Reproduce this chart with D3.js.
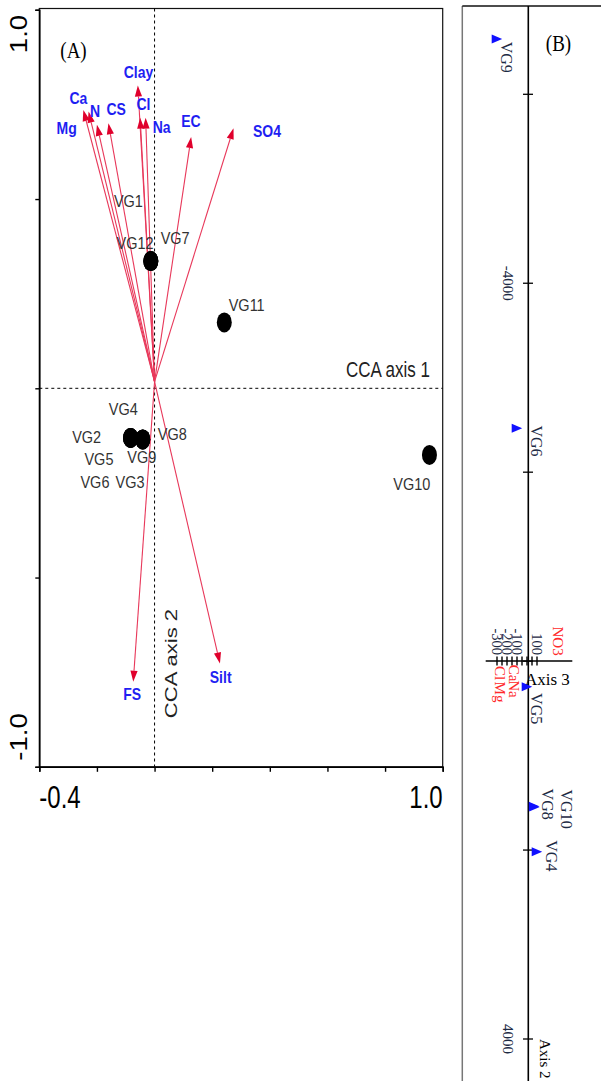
<!DOCTYPE html>
<html><head><meta charset="utf-8">
<script src="https://cdn.jsdelivr.net/npm/d3@7"></script>
<style>html,body{margin:0;padding:0;background:#fff;}svg{display:block;}</style>
</head><body>
<script>
// ---------- Panel A data (CCA biplot) ----------
const siteNames  = ["VG1","VG2","VG3","VG4","VG5","VG6","VG7","VG8","VG9","VG10","VG11","VG12"];
const siteAxis1  = [-0.013,-0.083,-0.041,-0.083,-0.083,-0.083,-0.013,-0.041,-0.041,0.954,0.242,-0.013];
const siteAxis2  = [0.336,-0.131,-0.135,-0.131,-0.131,-0.131,0.336,-0.135,-0.135,-0.176,0.174,0.336];

const envNames = ["Ca","N","Mg","CS","Clay","Cl","Na","EC","SO4","FS","Silt"];
const envAxis1 = [-0.247,-0.229,-0.200,-0.160,-0.058,-0.050,-0.031,0.127,0.274,-0.074,0.227];
const envAxis2 = [0.735,0.731,0.696,0.700,0.800,0.715,0.715,0.664,0.687,-0.775,-0.727];

const xTicksA = [-0.4,-0.2,0,0.2,0.4,0.6,0.8,1.0];
const yTicksA = [-1,-0.5,0,0.5,1];
const xTickLabelsA = ["-0.4","1.0"];
const yTickLabelsA = ["-1.0","1.0"];

// ---------- Panel B data (rotated ordination) ----------
const siteNamesB = ["VG9","VG6","VG5","VG8","VG10","VG4"];
const siteAx3B   = [-303,-103,-3,68,72,97];
const siteAx2B   = [-6586,-2465,270,1535,1545,2019];
const varNamesB  = ["NO3","Ca","Na","Cl","Mg"];
const varAx3B    = [310,-130,-130,-270,-270];
const varAx2B    = [-212,126,295,126,327];
const ax2TicksB  = [-6000,-4000,-2000,0,2000,4000];
const ax2LabelsB = ["-4000","4000"];
const ax3TicksB  = [-300,-250,-200,-150,-100,-50,0,50,100];
const ax3LabelsB = ["-300","-200","-100","100"];

// ---------- layout ----------
const W = 601, H = 1081;
const svg = d3.select("body").append("svg").attr("width", W).attr("height", H);

const x = d3.scaleLinear().domain([-0.4, 1.0]).range([39.3, 442.7]);
const y = d3.scaleLinear().domain([-1, 1]).range([766.8, 9.8]);
const arrowOrigin = [0, 0.0175];

const labelNudge = {
  VG1:[-22.4,-60.3], VG7:[24.3,-22.7], VG12:[-15.7,-18.3], VG11:[22.4,-17.3], VG10:[-17.6,29],
  VG2:[-44,-1], VG4:[-7.4,-28.4], VG5:[-31.7,21.6], VG6:[-35.7,44], VG3:[-12.7,42.4],
  VG8:[29.6,-5.3], VG9:[-1,18]
};
const envNudge = {
  Ca:[-5,-12.3], N:[6.5,-0.5], Mg:[-30.3,2.7], CS:[7.7,-14.3], Clay:[0.6,-13.8], Cl:[3.3,-13.4],
  Na:[16,9], EC:[-0.3,-16.3], SO4:[33.4,2.4], FS:[-1,12.6], Silt:[0.7,14]
};

function txt(g, s, px, py, rot, sy, opts) {
  const t = g.append("text").text(s)
    .attr("transform", `translate(${px},${py}) scale(1,${sy}) rotate(${rot})`)
    .attr("text-anchor", opts.anchor || "middle")
    .attr("dominant-baseline", opts.baseline || "central")
    .attr("font-family", opts.family || "'Liberation Sans', Arial, sans-serif")
    .attr("font-size", opts.size || 14)
    .attr("font-weight", opts.weight || "normal")
    .attr("fill", opts.fill || "#000");
  return t;
}

// ---------- Panel A ----------
const gA = svg.append("g");

// frame
gA.append("rect").attr("x", x(-0.4)).attr("y", 8.5)
  .attr("width", x(1.0) - x(-0.4)).attr("height", y(-1) - 8.5)
  .attr("fill", "none").attr("stroke", "#111").attr("stroke-width", 1.2);

// axes
const axB = gA.append("g").attr("transform", `translate(0,${y(-1)})`)
  .call(d3.axisBottom(x).tickValues(xTicksA).tickSize(5).tickFormat(""));
const axL = gA.append("g").attr("transform", `translate(${x(-0.4)},0)`)
  .call(d3.axisLeft(y).tickValues(yTicksA).tickSize(4).tickFormat(""));
[axB, axL].forEach(a => {
  a.select(".domain").attr("stroke", "#000").attr("stroke-width", 1.6);
  a.selectAll(".tick line").attr("stroke", "#000").attr("stroke-width", 1.4);
});

// tick labels (only extremes shown)
txt(gA, xTickLabelsA[0], x(-0.4), 808, 0, 1.3, {anchor:"start", baseline:"auto", size:24});
txt(gA, xTickLabelsA[1], x(1.0), 808, 0, 1.3, {anchor:"end", baseline:"auto", size:24});
txt(gA, yTickLabelsA[0], 18.5, 737, -90, 1.15, {size:24});
txt(gA, yTickLabelsA[1], 18.5, 34, -90, 1.15, {size:24});

// dashed zero lines
gA.append("line").attr("x1", x(0)).attr("x2", x(0)).attr("y1", 8.5).attr("y2", y(-1))
  .attr("stroke", "#000").attr("stroke-width", 1).attr("stroke-dasharray", "3,3");
gA.append("line").attr("x1", x(-0.4)).attr("x2", x(1.0)).attr("y1", y(0)).attr("y2", y(0))
  .attr("stroke", "#000").attr("stroke-width", 1).attr("stroke-dasharray", "3,3");

// axis titles
txt(gA, "CCA axis 1", 430, 369, 0, 1.35, {anchor:"end", size:17, fill:"#222"});
txt(gA, "CCA axis 2", 171, 663.5, -90, 1.3, {size:17, fill:"#222"});

// panel label
txt(gA, "(A)", 73.5, 50, 0, 1.2, {size:19, family:"'Liberation Serif','Times New Roman',serif"});

// arrows
const ox = x(arrowOrigin[0]), oy = y(arrowOrigin[1]);
envNames.forEach((n, i) => {
  const tx = x(envAxis1[i]), ty = y(envAxis2[i]);
  const dx = tx - ox, dy = ty - oy, L = Math.hypot(dx, dy);
  const ux = dx / L, uy = dy / L, hl = 11, hw = 3.6;
  const bx = tx - ux * hl, by = ty - uy * hl;
  gA.append("line").attr("x1", ox).attr("y1", oy).attr("x2", bx).attr("y2", by)
    .attr("stroke", "#e8385a").attr("stroke-width", 1.1);
  gA.append("path")
    .attr("d", `M${tx},${ty}L${bx - uy * hw},${by + ux * hw}L${bx + uy * hw},${by - ux * hw}Z`)
    .attr("fill", "#e0002c");
});

// sites
siteNames.forEach((n, i) => {
  gA.append("ellipse").attr("cx", x(siteAxis1[i])).attr("cy", y(siteAxis2[i]))
    .attr("rx", 7.5).attr("ry", 10).attr("fill", "#000");
});
siteNames.forEach((n, i) => {
  const d = labelNudge[n];
  txt(gA, n, x(siteAxis1[i]) + d[0], y(siteAxis2[i]) + d[1], 0, 1.18, {size:14.5, fill:"#333"});
});
envNames.forEach((n, i) => {
  const d = envNudge[n];
  txt(gA, n, x(envAxis1[i]) + d[0], y(envAxis2[i]) + d[1], 0, 1.2, {size:14, weight:"bold", fill:"#1f1ff2"});
});

// ---------- Panel B ----------
const gB = svg.append("g");
const ay = d3.scaleLinear().domain([-6000, 4000]).range([94.3, 1039]);
const ax = d3.scaleLinear().domain([-300, 100]).range([497, 537]);
const serif = "'Liberation Serif','Times New Roman',serif";

gB.append("line").attr("x1", 462.3).attr("x2", 462.3).attr("y1", 6).attr("y2", H)
  .attr("stroke", "#777").attr("stroke-width", 1.5);
gB.append("line").attr("x1", 462.3).attr("x2", W).attr("y1", 6).attr("y2", 6)
  .attr("stroke", "#111").attr("stroke-width", 1.3);

// axis 2 (vertical)
gB.append("line").attr("x1", ax(0) + 1.3).attr("x2", ax(0) + 1.3).attr("y1", 6).attr("y2", H)
  .attr("stroke", "#000").attr("stroke-width", 1.6);
ax2TicksB.forEach(v => {
  gB.append("line").attr("x1", ax(0) - 4).attr("x2", ax(0) + 6).attr("y1", ay(v)).attr("y2", ay(v))
    .attr("stroke", "#000").attr("stroke-width", 1.3);
});
ax2LabelsB.forEach(s => {
  txt(gB, s, 507.5, ay(+s), 90, 1, {size:15, family:serif, fill:"#1d2a44"});
});

// axis 3 (horizontal)
gB.append("line").attr("x1", 485.7).attr("x2", 572.3).attr("y1", ay(0)).attr("y2", ay(0))
  .attr("stroke", "#000").attr("stroke-width", 1.5);
ax3TicksB.forEach(v => {
  gB.append("line").attr("x1", ax(v)).attr("x2", ax(v)).attr("y1", ay(0) - 4.5).attr("y2", ay(0) + 4.5)
    .attr("stroke", "#000").attr("stroke-width", 1.4);
});
ax3LabelsB.forEach(s => {
  txt(gB, s, ax(+s), ay(0) - 6, 90, 1, {anchor:"end", size:14.5, family:serif, fill:"#1d2a44"});
});
txt(gB, "Axis 3", 525, 685, 0, 1, {anchor:"start", baseline:"auto", size:17, family:serif});
txt(gB, "Axis 2", 545, 1039, 90, 1, {anchor:"start", size:15, family:serif});

// variables
varNamesB.forEach((n, i) => {
  txt(gB, n, ax(varAx3B[i]), ay(varAx2B[i]), 90, 1, {size:15, family:serif, fill:"#ff2a2a"});
});

// sites
const siteNudgeB = { VG9:[10,18.3], VG6:[20,12.7], VG5:[10,22], VG8:[14,-2], VG10:[32.7,2], VG4:[15,4] };
siteNamesB.forEach((n, i) => {
  const cx = ax(siteAx3B[i]), cy = ay(siteAx2B[i]);
  gB.append("path").attr("d", `M${cx - 5},${cy - 4.5}L${cx + 5.5},${cy}L${cx - 5},${cy + 4.5}Z`)
    .attr("fill", "#1010ff");
});
siteNamesB.forEach((n, i) => {
  const d = siteNudgeB[n];
  txt(gB, n, ax(siteAx3B[i]) + d[0], ay(siteAx2B[i]) + d[1], 90, 1, {size:16, family:serif, fill:"#1d2a44"});
});

txt(gB, "(B)", 558.5, 43.5, 0, 1.2, {size:19, family:serif});
</script>
</body></html>
